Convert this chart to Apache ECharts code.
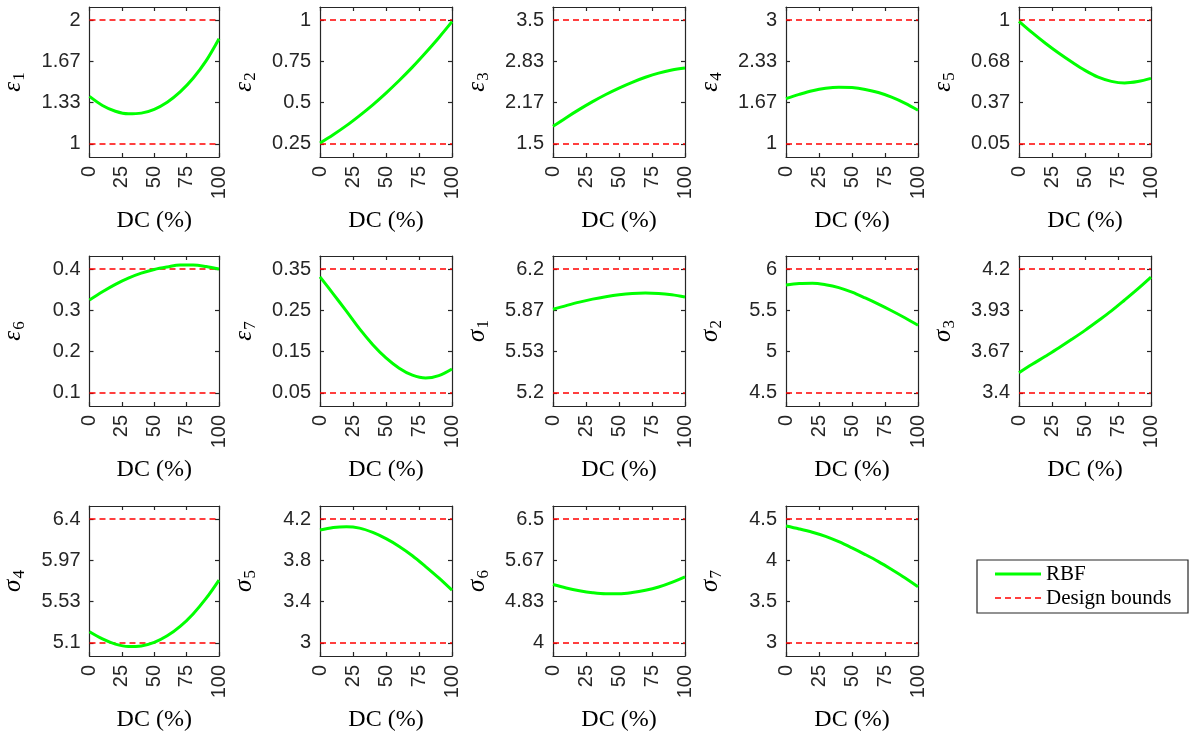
<!DOCTYPE html>
<html><head><meta charset="utf-8">
<script src="https://cdn.jsdelivr.net/npm/echarts@6/dist/echarts.min.js"></script>
<style>html,body{margin:0;padding:0;background:#fff}#c{width:1189px;height:734px}</style>
</head><body><div id="c"></div>
<script>
// ---- data ----
const dc = [0, 10, 20, 30, 40, 50, 60, 70, 80, 90, 100];

const eps1 = [1.384, 1.311, 1.264, 1.243, 1.249, 1.28, 1.337, 1.42, 1.53, 1.67, 1.849];
const eps2 = [0.256, 0.306, 0.361, 0.422, 0.487, 0.558, 0.634, 0.715, 0.802, 0.893, 0.99];
const eps3 = [1.785, 1.925, 2.058, 2.183, 2.298, 2.402, 2.495, 2.576, 2.644, 2.694, 2.726];
const eps4 = [1.731, 1.80, 1.86, 1.90, 1.917, 1.91, 1.88, 1.83, 1.755, 1.66, 1.545];
const eps5 = [0.99, 0.903, 0.822, 0.747, 0.678, 0.614, 0.562, 0.530, 0.518, 0.529, 0.553];
const eps6 = [0.325, 0.345, 0.363, 0.378, 0.39, 0.399, 0.405, 0.4095, 0.4095, 0.406, 0.4];
const eps7 = [0.331, 0.29, 0.248, 0.205, 0.167, 0.135, 0.11, 0.093, 0.086, 0.092, 0.108];
const sig1 = [5.875, 5.905, 5.933, 5.957, 5.977, 5.993, 6.003, 6.006, 6.003, 5.992, 5.974];
const sig2 = [5.806, 5.825, 5.828, 5.81, 5.775, 5.72, 5.65, 5.575, 5.495, 5.41, 5.319];
const sig3 = [3.531, 3.585, 3.637, 3.69, 3.746, 3.804, 3.866, 3.93, 4.0, 4.072, 4.148];
const sig4 = [5.218, 5.143, 5.088, 5.063, 5.069, 5.106, 5.175, 5.274, 5.405, 5.567, 5.76];
const sig5 = [4.093, 4.118, 4.126, 4.112, 4.07, 4.01, 3.935, 3.845, 3.74, 3.63, 3.511];
const sig6 = [5.18, 5.11, 5.055, 5.015, 4.995, 4.995, 5.018, 5.062, 5.128, 5.222, 5.334];
const sig7 = [4.415, 4.38, 4.34, 4.29, 4.225, 4.15, 4.07, 3.985, 3.89, 3.79, 3.68];

const lowerBounds = [1, 0.25, 1.5, 1, 0.05, 0.1, 0.05, 5.2, 4.5, 3.4, 5.1, 3, 4, 3];
const upperBounds = [2, 1, 3.5, 3, 1, 0.4, 0.35, 6.2, 6, 4.2, 6.4, 4.2, 6.5, 4.5];

const yTickLabels = [
  ['1', '1.33', '1.67', '2'],
  ['0.25', '0.5', '0.75', '1'],
  ['1.5', '2.17', '2.83', '3.5'],
  ['1', '1.67', '2.33', '3'],
  ['0.05', '0.37', '0.68', '1'],
  ['0.1', '0.2', '0.3', '0.4'],
  ['0.05', '0.15', '0.25', '0.35'],
  ['5.2', '5.53', '5.87', '6.2'],
  ['4.5', '5', '5.5', '6'],
  ['3.4', '3.67', '3.93', '4.2'],
  ['5.1', '5.53', '5.97', '6.4'],
  ['3', '3.4', '3.8', '4.2'],
  ['4', '4.83', '5.67', '6.5'],
  ['3', '3.5', '4', '4.5']
];
const varSymbols = ['ε', 'ε', 'ε', 'ε', 'ε', 'ε', 'ε', 'σ', 'σ', 'σ', 'σ', 'σ', 'σ', 'σ'];
const varSubs = ['1', '2', '3', '4', '5', '6', '7', '1', '2', '3', '4', '5', '6', '7'];
const xName = 'DC (%)';
const seriesNames = ['RBF', 'Design bounds'];

const panels = [eps1, eps2, eps3, eps4, eps5, eps6, eps7, sig1, sig2, sig3, sig4, sig5, sig6, sig7];

// ---- layout ----
const colLeft = [87, 320, 553, 786, 1019];
const rowTop = [7, 256, 506];
const PW = 132, PH = 150;
const axisColor = '#262626';
const sans = 'Liberation Sans, Arial, sans-serif';
const serif = 'Liberation Serif, Times New Roman, serif';
const green = '#00ff00', red = '#ff0000';
const dashPattern = [6, 4];

const grids = [], xAxes = [], yAxes = [], series = [];

panels.forEach((vals, i) => {
  const r = Math.floor(i / 5), c = i % 5;
  grids.push({ left: colLeft[c], top: rowTop[r], width: PW, height: PH, show: false });
  const lo = lowerBounds[i], hi = upperBounds[i];
  const pad = 0.105 * (hi - lo);
  const ticks = yTickLabels[i].map((_, k) => lo + k * (hi - lo) / 3);
  const lineStyle = { color: axisColor, width: 1.2 };

  const xBase = {
    gridIndex: i, type: 'value', min: 0, max: 100, interval: 25,
    axisLine: { show: true, onZero: false, lineStyle },
    axisTick: { show: true, inside: true, length: 4, lineStyle },
    splitLine: { show: false }
  };
  xAxes.push(Object.assign({}, xBase, {
    position: 'bottom',
    axisLabel: { show: true, rotate: 90, margin: 9, fontSize: 20, color: axisColor, fontFamily: sans },
    name: xName, nameLocation: 'middle', nameGap: 52,
    nameTextStyle: { fontFamily: serif, fontSize: 24, color: '#000' }
  }));
  xAxes.push(Object.assign({}, xBase, { position: 'top', axisLabel: { show: false } }));

  const yBase = {
    gridIndex: i, type: 'value', min: lo - pad, max: hi + pad,
    axisLine: { show: true, onZero: false, lineStyle },
    axisTick: { show: true, inside: true, length: 4, lineStyle, customValues: ticks },
    splitLine: { show: false }
  };
  yAxes.push(Object.assign({}, yBase, {
    position: 'left',
    axisLabel: {
      show: true, margin: 9, fontSize: 20, color: axisColor, fontFamily: sans,
      customValues: ticks,
      formatter: (v) => {
        let best = 0;
        ticks.forEach((t, k) => { if (Math.abs(t - v) < Math.abs(ticks[best] - v)) best = k; });
        return yTickLabels[i][best];
      }
    },
    name: '{g|' + varSymbols[i] + '}{s|' + varSubs[i] + '}',
    nameLocation: 'middle', nameRotate: 90, nameGap: 61,
    nameTextStyle: {
      rich: {
        g: { fontFamily: serif, fontStyle: 'italic', fontSize: 25, color: '#000', lineHeight: 30, verticalAlign: 'middle' },
        s: { fontFamily: serif, fontSize: 17, color: '#000', lineHeight: 17, verticalAlign: 'bottom', padding: [0, 0, 0, 1] }
      }
    }
  }));
  yAxes.push(Object.assign({}, yBase, { position: 'right', axisLabel: { show: false } }));

  series.push({
    name: seriesNames[0], type: 'line', xAxisIndex: 2 * i, yAxisIndex: 2 * i,
    data: dc.map((x, k) => [x, vals[k]]), smooth: 0.35, symbol: 'none',
    lineStyle: { color: green, width: 3 }, itemStyle: { color: green }, z: 3
  });
  [lo, hi].forEach(b => {
    series.push({
      name: seriesNames[1], type: 'line', xAxisIndex: 2 * i, yAxisIndex: 2 * i,
      data: [[0, b], [100, b]], symbol: 'none',
      lineStyle: { color: red, width: 1.3, type: dashPattern }, itemStyle: { color: red }, z: 2
    });
  });
});

// legend box drawn as graphic (line samples without markers)
const LX = 977, LY = 560, LW = 211, LH = 53;
const legendGraphic = [
  { type: 'rect', shape: { x: LX, y: LY, width: LW, height: LH },
    style: { fill: '#fff', stroke: axisColor, lineWidth: 1.2 }, z: 10 },
  { type: 'line', shape: { x1: LX + 18, y1: LY + 14, x2: LX + 64, y2: LY + 14 },
    style: { stroke: green, lineWidth: 3 }, z: 11 },
  { type: 'text', x: LX + 69, y: LY + 14,
    style: { text: seriesNames[0], font: '21px ' + serif, fill: '#000', textVerticalAlign: 'middle', verticalAlign: 'middle' }, z: 11 },
  { type: 'line', shape: { x1: LX + 18, y1: LY + 38, x2: LX + 64, y2: LY + 38 },
    style: { stroke: red, lineWidth: 1.3, lineDash: dashPattern }, z: 11 },
  { type: 'text', x: LX + 69, y: LY + 38,
    style: { text: seriesNames[1], font: '21px ' + serif, fill: '#000', textVerticalAlign: 'middle', verticalAlign: 'middle' }, z: 11 }
];

const chart = echarts.init(document.getElementById('c'));
chart.setOption({
  animation: false,
  backgroundColor: '#fff',
  grid: grids, xAxis: xAxes, yAxis: yAxes, series,
  graphic: legendGraphic
});
</script></body></html>
